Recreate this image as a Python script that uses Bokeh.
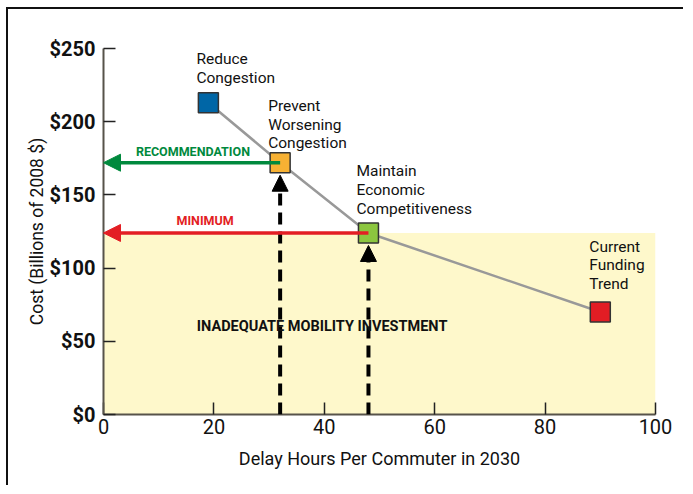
from bokeh.plotting import figure
from bokeh.models import Range1d, FixedTicker, Arrow, NormalHead, Label
from bokeh.core.properties import value
from bokeh.embed import file_html
from bokeh.resources import INLINE

# ---- data ----
scenarios = ["Reduce\nCongestion", "Prevent\nWorsening\nCongestion",
             "Maintain\nEconomic\nCompetitiveness", "Current\nFunding\nTrend"]
delay_hours = [19, 32, 48, 90]
cost_billions = [213, 172, 124, 70]
scenario_colors = ["#0066a6", "#f7b133", "#8cc63f", "#e21d24"]
recommendation_level = 172
minimum_level = 124
x_ticks = [0, 20, 40, 60, 80, 100]
y_ticks = [0, 50, 100, 150, 200, 250]
y_tick_labels = ["$0", "$50", "$100", "$150", "$200", "$250"]

FONT = "Roboto"
W, H = 677, 478
p = figure(width=W, height=H, x_range=Range1d(0, 100), y_range=Range1d(0, 250),
           output_backend="svg", toolbar_location=None,
           min_border_left=95, min_border_right=30, min_border_top=39, min_border_bottom=73)
p.styles = {"border-left": "2px solid #111", "border-top": "2px solid #111",
            "margin-left": "6px", "margin-top": "7px"}
p.outline_line_color = None
p.xgrid.visible = False
p.ygrid.visible = False
p.background_fill_color = "white"

# axes
p.xaxis.ticker = FixedTicker(ticks=x_ticks)
p.yaxis.ticker = FixedTicker(ticks=y_ticks)
p.yaxis.major_label_overrides = {t: l for t, l in zip(y_ticks, y_tick_labels)}
for ax in (p.xaxis[0], p.yaxis[0]):
    ax.axis_line_color = "#57534a"
    ax.axis_line_width = 2
    ax.major_tick_in = 12
    ax.major_tick_out = 0
    ax.major_tick_line_color = "#222"
    ax.major_tick_line_width = 1.5
    ax.minor_tick_line_color = None
    ax.major_label_text_font = FONT
    ax.axis_label_text_font = FONT
    ax.axis_label_text_font_style = "normal"
    ax.axis_label_text_color = "#111"
    ax.major_label_text_color = "#111"
p.xaxis.major_label_text_font_size = "20px"
p.xaxis.major_label_standoff = 4
p.xaxis.axis_label = "Delay Hours Per Commuter in 2030"
p.xaxis.axis_label_text_font_size = "18px"
p.xaxis.axis_label_standoff = 11
p.yaxis.major_label_text_font_size = "20px"
p.yaxis.major_label_text_font_style = "bold"
p.yaxis.major_label_standoff = 8
p.yaxis.axis_label = "Cost (Billions of 2008 $)"
p.yaxis.axis_label_text_font_size = "17.5px"
p.yaxis.axis_label_standoff = 0

# inadequate region
p.quad(left=[x_ticks[0]], right=[x_ticks[-1]], bottom=[0], top=[minimum_level],
       fill_color="#fef8cb", line_color=None, level="underlay")

# connecting line and points
p.line(delay_hours, cost_billions, line_color="#999999", line_width=2.5)

# vertical dashed arrows
px_per_unit = 365.6 / 250
gap = 12.5 / px_per_unit
for i in (1, 2):
    p.add_layout(Arrow(end=NormalHead(size=16, fill_color="black", line_color="black"),
                       x_start=delay_hours[i], y_start=0,
                       x_end=delay_hours[i], y_end=cost_billions[i] - gap,
                       line_color="black", line_width=4, line_dash="12 7"))

# horizontal arrows
p.add_layout(Arrow(end=NormalHead(size=17, fill_color="#00893d", line_color="#00893d"),
                   x_start=delay_hours[1], y_start=recommendation_level,
                   x_end=0, y_end=recommendation_level,
                   line_color="#00893d", line_width=3.5))
p.add_layout(Arrow(end=NormalHead(size=17, fill_color="#e31e24", line_color="#e31e24"),
                   x_start=delay_hours[2], y_start=minimum_level,
                   x_end=0, y_end=minimum_level,
                   line_color="#e31e24", line_width=3.5))

p.scatter(delay_hours, cost_billions, marker="square", size=20,
          fill_color=scenario_colors, line_color="#333333", line_width=1.5)

# scenario labels
dxs = [-12, -12, -12, -11]
dys = [-53, -66, -71, -74.5]
for i, name in enumerate(scenarios):
    p.text(x=[delay_hours[i]], y=[cost_billions[i]], text=[name],
           x_offset=dxs[i], y_offset=dys[i],
           text_font=value(FONT), text_font_size="15.5px", text_color="#111",
           text_align="left", text_baseline="top", text_line_height=1.05)

p.add_layout(Label(x=16.2, y=recommendation_level, y_offset=10.7, text="RECOMMENDATION",
                   text_font=FONT, text_font_size="12.5px", text_font_style="bold",
                   text_color="#00893d", text_align="center", text_baseline="middle"))
p.add_layout(Label(x=18.4, y=minimum_level, y_offset=12, text="MINIMUM",
                   text_font=FONT, text_font_size="12.5px", text_font_style="bold",
                   text_color="#e31e24", text_align="center", text_baseline="middle"))
p.add_layout(Label(x=39.6, y=60.2, text="INADEQUATE MOBILITY INVESTMENT",
                   text_font=FONT, text_font_size="14.5px", text_font_style="bold",
                   text_color="#111", text_align="center", text_baseline="middle"))

open("out.html", "w").write(file_html(p, INLINE))
